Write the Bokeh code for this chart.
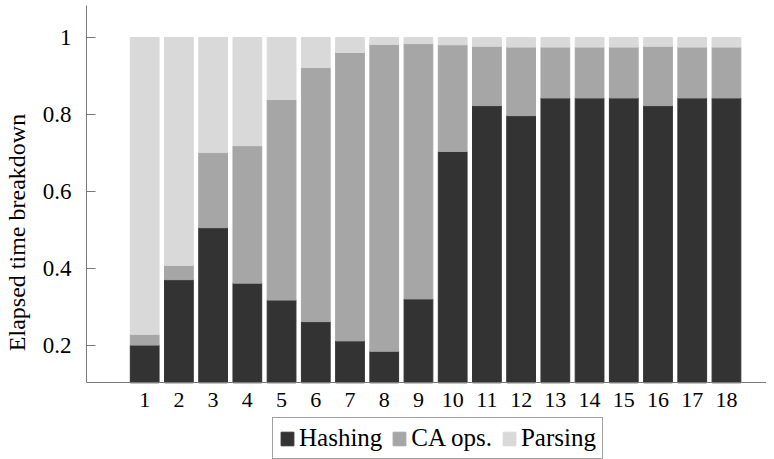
from bokeh.plotting import figure
from bokeh.models import FixedTicker, Range1d, Legend, LegendItem, ColumnDataSource
from bokeh.transform import stack
from bokeh.embed import file_html
from bokeh.resources import INLINE

runs = list(range(1, 19))
hashing = [0.201, 0.371, 0.506, 0.362, 0.318, 0.262, 0.212, 0.185, 0.321,
           0.704, 0.823, 0.797, 0.843, 0.843, 0.843, 0.823, 0.843, 0.843]
ca_ops = [0.028, 0.037, 0.195, 0.357, 0.521, 0.660, 0.749, 0.797, 0.663,
          0.277, 0.154, 0.178, 0.132, 0.132, 0.132, 0.154, 0.132, 0.132]
parsing = [round(1 - h - c, 3) for h, c in zip(hashing, ca_ops)]
series = ["Hashing", "CA ops.", "Parsing"]
colors = ["#333333", "#a6a6a6", "#d9d9d9"]
y_ticks = [0.2, 0.4, 0.6, 0.8, 1.0]

source = ColumnDataSource(dict(x=runs, Hashing=hashing, CA=ca_ops, Parsing=parsing))

FONT = "Liberation Serif"
AXIS_MIN = 0.1031   # lower limit of the y axis (where the x axis sits)
Y_TOP = 1.0831

p = figure(width=766, height=459, output_backend="svg", toolbar_location=None,
           x_range=Range1d(-0.70, 19.17), y_range=Range1d(-0.0961, Y_TOP),
           min_border_left=77, min_border_right=0, min_border_top=5, min_border_bottom=0)
p.outline_line_color = None
p.xgrid.visible = False
p.ygrid.visible = False
p.background_fill_color = "white"

r1 = p.vbar(x="x", bottom=AXIS_MIN, top="Hashing", width=0.84, color=colors[0],
            source=source)
r2 = p.vbar(x="x", bottom=stack("Hashing"), top=stack("Hashing", "CA"), width=0.84,
            color=colors[1], source=source)
r3 = p.vbar(x="x", bottom=stack("Hashing", "CA"), top=stack("Hashing", "CA", "Parsing"),
            width=0.84, color=colors[2], source=source)
rs = [r1, r2, r3]

axis_color = "#7a7a7a"
p.yaxis.ticker = FixedTicker(ticks=y_ticks)
p.yaxis.bounds = (AXIS_MIN, Y_TOP)
p.yaxis.major_label_overrides = {1.0: "1"}
p.yaxis.major_tick_in = 9
p.yaxis.major_tick_out = 0
p.yaxis.minor_tick_line_color = None
p.yaxis.axis_line_color = axis_color
p.yaxis.major_tick_line_color = axis_color
p.yaxis.axis_label = "Elapsed time breakdown"
p.yaxis.axis_label_text_font = FONT
p.yaxis.axis_label_text_font_style = "normal"
p.yaxis.axis_label_text_font_size = "24px"
p.yaxis.axis_label_text_color = "black"
p.yaxis.axis_label_standoff = 10
p.yaxis.major_label_text_font = FONT
p.yaxis.major_label_text_font_size = "23px"
p.yaxis.major_label_text_color = "black"
p.yaxis.major_label_standoff = 15

p.xaxis.fixed_location = AXIS_MIN
p.xaxis.ticker = FixedTicker(ticks=runs)
p.xaxis.major_tick_line_color = None
p.xaxis.minor_tick_line_color = None
p.xaxis.axis_line_color = axis_color
p.xaxis.major_label_text_font = FONT
p.xaxis.major_label_text_font_size = "22px"
p.xaxis.major_label_text_color = "black"
p.xaxis.major_label_standoff = 4

legend = Legend(items=[LegendItem(label=s, renderers=[r]) for s, r in zip(series, rs)],
                orientation="horizontal", location=(186, 0),
                glyph_width=16, glyph_height=17, label_standoff=4, spacing=9,
                padding=6, margin=0, border_line_color="#444444", border_line_width=1,
                label_text_font=FONT, label_text_font_size="25px",
                label_text_color="black", background_fill_alpha=1.0)
p.add_layout(legend, "center")

open("out.html", "w").write(file_html(p, INLINE))
